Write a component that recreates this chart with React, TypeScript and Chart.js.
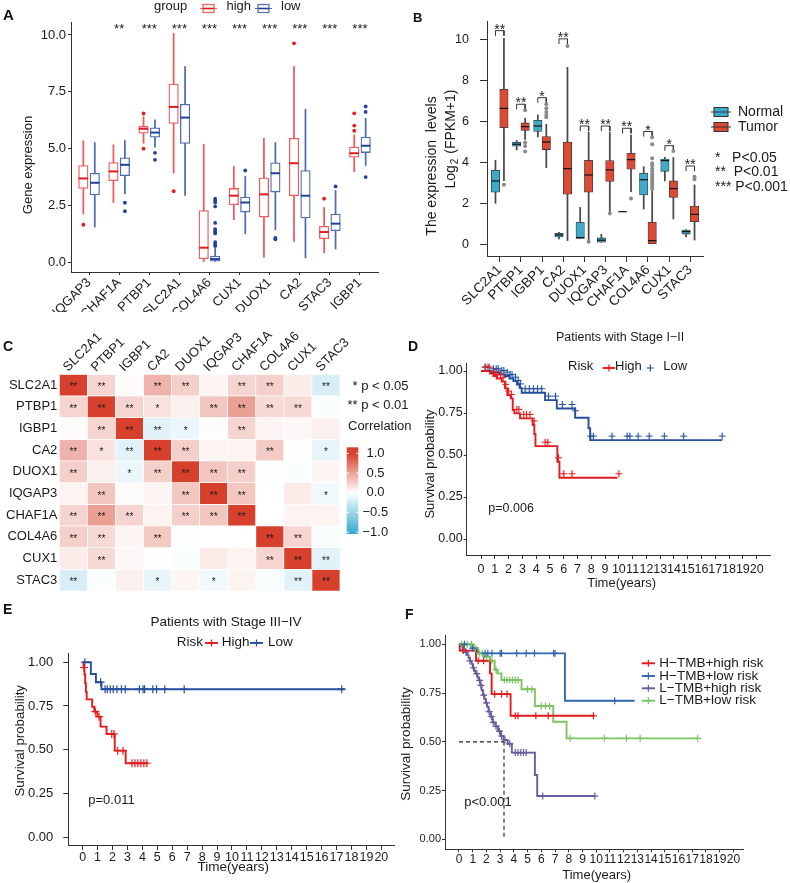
import React, { useEffect, useRef } from 'react';
import { Chart, registerables } from 'chart.js';
Chart.register(...registerables);

const FONT = '"Liberation Sans", Arial, Helvetica, sans-serif';
const INK = '#1a1a1a';
const AXIS = '#333333';

// ---------------- Panel A ----------------
const genesA = ['IQGAP3', 'CHAF1A', 'PTBP1', 'SLC2A1', 'COL4A6', 'CUX1', 'DUOX1', 'CA2', 'STAC3', 'IGBP1'];
const sigA = ['', '**', '***', '***', '***', '***', '***', '***', '***', '***'];
const yTicksA = [0, 2.5, 5, 7.5, 10];
const highMinA = [2.11, 2.62, 5.23, 3.91, 0.0, 1.86, 0.2, 0.91, 0.4, 3.97];
const highQ1A = [3.24, 3.58, 5.67, 6.1, 0.15, 2.52, 1.98, 2.92, 1.03, 4.62];
const highMedA = [3.68, 3.99, 5.87, 6.83, 0.63, 2.92, 2.98, 4.35, 1.32, 4.79];
const highQ3A = [4.25, 4.38, 5.98, 7.84, 2.27, 3.24, 3.71, 5.45, 1.57, 5.06];
const highMaxA = [5.34, 5.16, 6.4, 10.07, 5.19, 4.21, 5.45, 8.61, 2.4, 5.6];
const highOutA = [[0, 1.64], [2, 6.54], [2, 4.99], [3, 3.12], [7, 9.63], [8, 2.79], [9, 6.55], [9, 6.01], [9, 5.78]];
const lowMinA = [1.54, 3.0, 5.06, 2.93, 0.0, 1.25, 1.42, 0.18, 0.57, 4.25];
const lowQ1A = [2.95, 3.8, 5.5, 5.22, 0.04, 2.2, 3.08, 1.94, 1.38, 4.82];
const lowMedA = [3.49, 4.28, 5.7, 6.36, 0.13, 2.62, 3.91, 2.92, 1.69, 5.12];
const lowQ3A = [3.91, 4.59, 5.91, 6.95, 0.26, 2.86, 4.37, 4.03, 2.11, 5.5];
const lowMaxA = [5.26, 5.35, 6.26, 8.61, 0.6, 3.77, 5.26, 6.73, 3.15, 6.33];
const lowOutA = [[1, 2.61], [1, 2.24], [2, 4.81], [2, 4.5], [4, 2.79], [4, 2.7], [4, 2.62], [4, 2.45], [4, 1.72], [4, 1.45], [4, 1.38], [4, 1.32], [4, 1.26], [4, 0.88], [4, 0.78], [4, 0.7], [5, 4.03], [6, 1.06], [6, 1.0], [8, 3.33], [9, 6.85], [9, 6.61], [9, 3.74]];

// ---------------- Panel B ----------------
const genesB = ['SLC2A1', 'PTBP1', 'IGBP1', 'CA2', 'DUOX1', 'IQGAP3', 'CHAF1A', 'COL4A6', 'CUX1', 'STAC3'];
const sigB = ['**', '**', '*', '**', '**', '**', '**', '*', '*', '**'];
const bracketB = [10.42, 6.83, 7.15, 10.02, 5.77, 5.77, 5.66, 5.5, 4.81, 3.82];
const yTicksB = [0, 2, 4, 6, 8, 10];
const normMinB = [2.0, 4.6, 5.24, 0.26, 0.29, 0.1, 1.59, 1.72, 3.09, 0.36];
const normQ1B = [2.54, 4.78, 5.5, 0.36, 0.29, 0.1, 1.59, 2.41, 3.56, 0.5];
const normMedB = [3.09, 4.88, 5.77, 0.46, 0.33, 0.2, 1.59, 3.15, 4.08, 0.62];
const normQ3B = [3.61, 4.98, 6.05, 0.54, 1.07, 0.31, 1.59, 3.46, 4.16, 0.7];
const normMaxB = [4.1, 5.06, 6.31, 0.59, 1.8, 0.49, 1.59, 3.79, 4.24, 0.72];
const tumMinB = [3.1, 5.12, 3.74, 0.18, 0.13, 1.6, 2.57, 0.0, 1.24, 0.21];
const tumQ1B = [5.69, 5.56, 4.62, 2.44, 2.54, 3.07, 3.66, 0.03, 2.29, 1.1];
const tumMedB = [6.63, 5.74, 4.99, 3.69, 3.38, 3.63, 4.13, 0.18, 2.72, 1.46];
const tumQ3B = [7.56, 5.92, 5.25, 4.99, 4.1, 4.08, 4.44, 1.07, 3.09, 1.87];
const tumMaxB = [10.05, 6.15, 5.85, 8.63, 5.46, 5.46, 5.33, 2.6, 4.23, 2.9];
const tumOutB = [[0, 2.9], [1, 6.54], [1, 4.96], [1, 4.8], [1, 4.52], [2, 6.83], [2, 6.63], [2, 6.45], [2, 6.31], [2, 6.2], [3, 9.67], [4, 0.12], [5, 1.5], [6, 2.24], [7, 5.22], [7, 4.88], [7, 4.2], [7, 3.95], [7, 3.85], [7, 3.7], [7, 3.55], [7, 3.4], [7, 3.3], [7, 3.2], [7, 3.1], [7, 3.0], [7, 2.9], [7, 2.8], [7, 2.7], [8, 4.55], [9, 3.3], [9, 3.17]];

// ---------------- Panel C ----------------
const genesC = ['SLC2A1', 'PTBP1', 'IGBP1', 'CA2', 'DUOX1', 'IQGAP3', 'CHAF1A', 'COL4A6', 'CUX1', 'STAC3'];
const corrC = [
  [1, 0.22, 0.02, 0.4, 0.25, 0.06, 0.22, 0.25, 0.1, -0.2],
  [0.22, 1, 0.22, 0.15, 0.08, 0.3, 0.5, 0.2, 0.2, -0.03],
  [0.02, 0.22, 1, -0.15, -0.1, 0.02, 0.22, 0.05, 0.04, 0.08],
  [0.4, 0.15, -0.15, 1, 0.25, 0.05, 0.06, 0.28, 0.01, -0.12],
  [0.25, 0.08, -0.1, 0.25, 1, 0.3, 0.25, -0.02, -0.03, 0.05],
  [0.06, 0.3, 0.02, 0.05, 0.3, 1, 0.3, 0.0, 0.1, -0.07],
  [0.22, 0.5, 0.22, 0.06, 0.25, 0.3, 1, 0.0, 0.06, 0.06],
  [0.25, 0.2, 0.05, 0.28, -0.02, 0.0, 0.0, 1, 0.22, -0.04],
  [0.1, 0.2, 0.04, 0.01, -0.03, 0.1, 0.06, 0.22, 1, -0.15],
  [-0.2, -0.03, 0.08, -0.12, 0.05, -0.07, 0.06, -0.04, -0.15, 1],
];
const starsC = [
  ['**', '**', '', '**', '**', '', '**', '**', '', '**'],
  ['**', '**', '**', '*', '', '**', '**', '**', '**', ''],
  ['', '**', '**', '**', '*', '', '**', '', '', ''],
  ['**', '*', '**', '**', '**', '', '', '**', '', '*'],
  ['**', '', '*', '**', '**', '**', '**', '', '', ''],
  ['', '**', '', '', '**', '**', '**', '', '', '*'],
  ['**', '**', '**', '', '**', '**', '**', '', '', ''],
  ['**', '**', '', '**', '', '', '', '**', '**', ''],
  ['', '**', '', '', '', '', '', '**', '**', '**'],
  ['**', '', '', '*', '', '*', '', '', '**', '**'],
];
const corrTicks = [1, 0.5, 0, -0.5, -1];

// ---------------- Survival panels ----------------
const kmTicksX = Array.from({ length: 21 }, (_, i) => i);
const kmTicksY = [0, 0.25, 0.5, 0.75, 1];

const dHigh = [[0, 1], [0.65, 0.985], [0.9, 0.97], [1.14, 0.955], [1.5, 0.937], [1.74, 0.897], [1.91, 0.857], [2.15, 0.837], [2.3, 0.768], [2.42, 0.748], [2.83, 0.718], [3.75, 0.679], [3.87, 0.625], [3.95, 0.553], [5.54, 0.46], [5.69, 0.365], [9.9, 0.365]];
const dLow = [[0, 1], [0.77, 0.99], [1.38, 0.98], [1.74, 0.97], [2.06, 0.955], [2.35, 0.94], [2.6, 0.92], [2.8, 0.9], [2.95, 0.871], [4.65, 0.827], [5.5, 0.777], [6.83, 0.722], [7.8, 0.659], [7.92, 0.589], [17.5, 0.589]];
const dHighCens = [[0.3, 1], [0.6, 1], [1.0, 0.97], [1.2, 0.955], [1.4, 0.955], [1.6, 0.937], [1.8, 0.897], [2.0, 0.857], [2.2, 0.837], [2.6, 0.748], [2.75, 0.748], [3.1, 0.718], [3.3, 0.718], [3.55, 0.718], [3.85, 0.679], [4.65, 0.553], [4.85, 0.553], [5.62, 0.46], [6.0, 0.365], [6.6, 0.365], [10.0, 0.365]];
const dLowCens = [[0.3, 1], [0.5, 1], [0.9, 0.99], [1.1, 0.99], [1.25, 0.99], [1.5, 0.98], [1.65, 0.98], [1.9, 0.97], [2.1, 0.955], [2.25, 0.955], [2.5, 0.94], [2.7, 0.92], [2.85, 0.9], [3.2, 0.871], [3.5, 0.871], [3.8, 0.871], [4.1, 0.871], [4.4, 0.871], [4.9, 0.827], [5.4, 0.827], [5.9, 0.777], [6.6, 0.777], [6.85, 0.74], [7.95, 0.589], [8.15, 0.589], [9.5, 0.589], [10.6, 0.589], [10.8, 0.589], [11.4, 0.589], [12.2, 0.589], [13.3, 0.589], [14.7, 0.589], [17.5, 0.589]];

const eHigh = [[0, 1], [0.06, 0.97], [0.12, 0.93], [0.17, 0.88], [0.22, 0.83], [0.27, 0.788], [0.64, 0.746], [0.78, 0.718], [0.98, 0.689], [1.2, 0.632], [1.6, 0.59], [2.15, 0.495], [2.88, 0.423], [4.37, 0.423]];
const eLow = [[0, 1], [0.55, 0.933], [0.89, 0.886], [1.26, 0.846], [17.55, 0.846]];
const eHighCens = [[0.1, 0.97], [0.85, 0.718], [1.1, 0.689], [1.95, 0.59], [2.1, 0.59], [2.35, 0.495], [2.7, 0.495], [3.3, 0.423], [3.5, 0.423], [3.7, 0.423], [3.9, 0.423], [4.1, 0.423], [4.3, 0.423]];
const eLowCens = [[0.15, 1], [1.2, 0.886], [1.5, 0.846], [1.65, 0.846], [1.85, 0.846], [2.05, 0.846], [2.3, 0.846], [2.6, 0.846], [2.85, 0.846], [3.8, 0.846], [4.05, 0.846], [4.15, 0.846], [4.7, 0.846], [4.95, 0.846], [5.5, 0.846], [6.8, 0.846], [17.35, 0.846]];

const fHighTmbHighRisk = [[0, 1], [0.05, 0.968], [1.24, 0.916], [2.26, 0.851], [2.38, 0.745], [3.76, 0.634], [9.9, 0.634]];
const fHighTmbLowRisk = [[0, 1], [0.9, 0.98], [1.3, 0.954], [7.72, 0.711], [12.8, 0.711]];
const fLowTmbHighRisk = [[0, 1], [0.1, 0.99], [0.3, 0.975], [0.45, 0.96], [0.6, 0.945], [0.7, 0.93], [0.8, 0.915], [0.92, 0.9], [1.0, 0.88], [1.1, 0.865], [1.2, 0.85], [1.35, 0.83], [1.45, 0.815], [1.55, 0.79], [1.65, 0.765], [1.75, 0.74], [1.85, 0.72], [1.95, 0.7], [2.05, 0.68], [2.15, 0.655], [2.3, 0.63], [2.45, 0.6], [2.65, 0.58], [2.85, 0.555], [3.05, 0.53], [3.25, 0.51], [3.55, 0.49], [3.85, 0.445], [5.53, 0.33], [5.7, 0.222], [9.9, 0.222]];
const fLowTmbLowRisk = [[0, 1], [1.05, 0.98], [1.4, 0.954], [1.77, 0.937], [2.26, 0.916], [2.6, 0.87], [2.8, 0.851], [3.1, 0.817], [4.56, 0.77], [5.53, 0.684], [6.87, 0.603], [7.84, 0.518], [17.4, 0.518]];
const fHHCens = [[0.3, 0.968], [1.4, 0.916], [1.8, 0.916], [2.6, 0.745], [3.1, 0.745], [3.5, 0.745], [4.1, 0.634], [4.3, 0.634], [5.6, 0.634], [6.5, 0.634], [9.8, 0.634]];
const fHLCens = [[0.4, 1], [1.0, 0.98], [1.9, 0.954], [2.1, 0.954], [2.4, 0.954], [3.0, 0.954], [3.1, 0.954], [4.2, 0.954], [4.9, 0.954], [5.5, 0.954], [6.9, 0.954], [7.0, 0.954], [11.35, 0.711]];
const fLHCens = [[0.3, 0.975], [0.5, 0.96], [0.8, 0.915], [1.05, 0.88], [1.3, 0.85], [1.5, 0.815], [1.6, 0.79], [1.8, 0.74], [2.0, 0.7], [2.2, 0.655], [2.35, 0.63], [2.5, 0.6], [2.7, 0.58], [2.95, 0.555], [3.1, 0.53], [3.35, 0.51], [3.7, 0.49], [4.1, 0.445], [4.3, 0.445], [4.5, 0.445], [4.7, 0.445], [4.9, 0.445], [6.1, 0.222], [9.9, 0.222]];
const fLLCens = [[0.2, 1], [0.4, 1], [0.6, 1], [0.9, 1], [1.2, 0.98], [1.5, 0.954], [1.7, 0.954], [2.0, 0.937], [2.4, 0.916], [2.7, 0.87], [3.3, 0.817], [3.5, 0.817], [3.7, 0.817], [3.9, 0.817], [4.1, 0.817], [4.3, 0.817], [5.0, 0.77], [5.3, 0.77], [6.0, 0.684], [6.3, 0.684], [6.6, 0.684], [8.1, 0.518], [10.6, 0.518], [12.2, 0.518], [13.2, 0.518], [17.4, 0.518]];
const fMedianH = [[0, 0.5], [3.28, 0.5]];
const fMedianV = [[3.28, 0.5], [3.28, 0]];
const fLegend = ['H\u2212TMB+high risk', 'H\u2212TMB+low risk', 'L\u2212TMB+high risk', 'L\u2212TMB+low risk'];

// ---------------- colours ----------------
const RED_A = '#E41A1C', RED_A_EDGE = '#EE5B5D';
const BLUE_A = '#22429A', BLUE_A_EDGE = '#4F6CB2';
const NORM_FILL = '#3EAAC9', TUM_FILL = '#DD4A34';
const KM_RED = '#E41A1C', KM_BLUE = '#244E9E';
const F_COLORS = ['#E41A1C', '#2E67B1', '#6B5A9E', '#7DC462'];

// ---------------- helpers ----------------
type T = { s: string; x: number; y: number; size: number; align?: CanvasTextAlign; base?: CanvasTextBaseline; rot?: number; color?: string; weight?: string };
function drawT(ctx: CanvasRenderingContext2D, t: T) {
  ctx.save();
  ctx.font = `${t.weight ?? 'normal'} ${t.size}px ${FONT}`;
  ctx.fillStyle = t.color ?? INK;
  ctx.textAlign = t.align ?? 'left';
  ctx.textBaseline = t.base ?? 'middle';
  ctx.translate(t.x, t.y);
  if (t.rot) ctx.rotate(t.rot);
  ctx.fillText(t.s, 0, 0);
  ctx.restore();
}
const toXY = (pts: number[][]) => pts.map(([x, y]) => ({ x, y }));
const font = (size: number) => ({ family: FONT, size });

function corrColor(v: number) {
  const pos = [214, 64, 44];
  const neg = [58, 172, 208];
  const c = v >= 0 ? pos : neg;
  const a = Math.min(1, Math.abs(v));
  const m = (k: number) => Math.round(255 + (c[k] - 255) * a);
  return `rgb(${m(0)},${m(1)},${m(2)})`;
}

function boxDatasets(o: {
  min: number[]; q1: number[]; med: number[]; q3: number[]; max: number[]; out: number[][];
  off: number; boxW: number; fill: string; edge: string; edgeW: number; whisk: string; medColor: string; medW: number; outColor: string; outR: number;
}) {
  const xs = o.med.map((_, i) => i + 1 + o.off);
  return [
    { type: 'bar', data: xs.map((x, i) => ({ x, y: [o.min[i], o.max[i]] })), backgroundColor: o.whisk, borderWidth: 0, barThickness: 1.1, grouped: false, order: 3 },
    { type: 'bar', data: xs.map((x, i) => ({ x, y: [o.q1[i], o.q3[i]] })), backgroundColor: o.fill, borderColor: o.edge, borderWidth: o.edgeW, borderSkipped: false, barThickness: o.boxW, grouped: false, order: 2 },
    { type: 'scatter', data: xs.map((x, i) => ({ x, y: o.med[i] })), pointStyle: 'line', pointRadius: o.boxW / 2, pointBorderColor: o.medColor, pointBorderWidth: o.medW, borderColor: o.medColor, order: 1 },
    { type: 'scatter', data: o.out.map(([g, v]) => ({ x: g + 1 + o.off, y: v })), pointStyle: 'circle', pointRadius: o.outR, pointBackgroundColor: o.outColor, pointBorderWidth: 0, order: 0 },
  ];
}

function axisCommon(tl: number) {
  return {
    grid: { display: true, drawOnChartArea: false, drawTicks: true, tickLength: tl, color: AXIS, offset: false },
    border: { display: true, color: AXIS, width: 1 },
  };
}

function baseOptions(pad: any) {
  return {
    responsive: false, animation: false, devicePixelRatio: 1, events: [],
    layout: { padding: pad },
    plugins: { legend: { display: false }, tooltip: { enabled: false }, title: { display: false } },
  };
}

// ---------------- Panel A config ----------------
function configA(): any {
  const datasets = [
    ...boxDatasets({ min: highMinA, q1: highQ1A, med: highMedA, q3: highQ3A, max: highMaxA, out: highOutA, off: -0.19, boxW: 9.5, fill: '#ffffff', edge: RED_A_EDGE, edgeW: 1.3, whisk: RED_A_EDGE, medColor: RED_A, medW: 2, outColor: RED_A, outR: 1.9 }),
    ...boxDatasets({ min: lowMinA, q1: lowQ1A, med: lowMedA, q3: lowQ3A, max: lowMaxA, out: lowOutA, off: 0.19, boxW: 9.5, fill: '#ffffff', edge: BLUE_A_EDGE, edgeW: 1.3, whisk: BLUE_A_EDGE, medColor: BLUE_A, medW: 2, outColor: BLUE_A, outR: 1.9 }),
  ];
  return {
    type: 'bar',
    data: { datasets },
    options: {
      ...baseOptions({ left: 0, right: 22, top: 22, bottom: 0 }),
      scales: {
        x: {
          type: 'linear', min: 0.4, max: 10.6, offset: false, ...axisCommon(3),
          afterBuildTicks: (s: any) => { s.ticks = genesA.map((_, i) => ({ value: i + 1 })); },
          afterFit: (s: any) => { s.height = 40; },
          ticks: { autoSkip: false, minRotation: 45, maxRotation: 45, padding: 0, color: INK, font: font(13), callback: (v: number) => genesA[Math.round(v) - 1] ?? '' },
        },
        y: {
          type: 'linear', min: -0.44, max: 10.57, ...axisCommon(3),
          afterBuildTicks: (s: any) => { s.ticks = yTicksA.map((v) => ({ value: v })); },
          afterFit: (s: any) => { s.width = 71; },
          ticks: { padding: 2, color: INK, font: font(13), callback: (v: number) => v.toFixed(1) },
        },
      },
    },
    plugins: [{
      id: 'panelA',
      afterDraw(chart: any) {
        const ctx = chart.ctx as CanvasRenderingContext2D;
        const xs = chart.scales.x, ys = chart.scales.y;
        sigA.forEach((s, i) => { if (s) drawT(ctx, { s, x: xs.getPixelForValue(i + 1), y: ys.getPixelForValue(10.37) + 3, size: 13, align: 'center' }); });
        drawT(ctx, { s: 'Gene expression', x: 28, y: 165, size: 13, align: 'center', rot: -Math.PI / 2 });
        drawT(ctx, { s: 'group', x: 154, y: 6, size: 13 });
        const key = (x: number, edge: string, mid: string) => {
          ctx.save();
          ctx.strokeStyle = edge; ctx.lineWidth = 1.2;
          ctx.beginPath(); ctx.moveTo(x, 8.5); ctx.lineTo(x + 3, 8.5); ctx.moveTo(x + 14, 8.5); ctx.lineTo(x + 17, 8.5); ctx.stroke();
          ctx.strokeRect(x + 3, 4.5, 11, 8);
          ctx.strokeStyle = mid; ctx.lineWidth = 1.6;
          ctx.beginPath(); ctx.moveTo(x + 3, 8.5); ctx.lineTo(x + 14, 8.5); ctx.stroke();
          ctx.restore();
        };
        key(200, RED_A_EDGE, RED_A);
        drawT(ctx, { s: 'high', x: 226.5, y: 6, size: 13 });
        key(255, BLUE_A_EDGE, BLUE_A);
        drawT(ctx, { s: 'low', x: 281, y: 6, size: 13 });
      },
    }],
  };
}

// ---------------- Panel B config ----------------
function configB(): any {
  const common = { boxW: 8.4, edge: '#3a3a3a', edgeW: 0.8, whisk: '#4a4a4a', medColor: '#111111', medW: 1.2, outColor: '#8a8a8a', outR: 2 };
  const bracketPts: any[] = [];
  bracketB.forEach((top, i) => {
    const c = i + 1;
    bracketPts.push({ x: c - 0.2, y: top - 0.25 }, { x: c - 0.2, y: top }, { x: c + 0.2, y: top }, { x: c + 0.2, y: top - 0.25 }, { x: c + 0.5, y: null });
  });
  const datasets = [
    ...boxDatasets({ ...common, min: normMinB, q1: normQ1B, med: normMedB, q3: normQ3B, max: normMaxB, out: [], off: -0.2, fill: NORM_FILL }),
    ...boxDatasets({ ...common, min: tumMinB, q1: tumQ1B, med: tumMedB, q3: tumQ3B, max: tumMaxB, out: tumOutB, off: 0.2, fill: TUM_FILL }),
    { type: 'line', data: bracketPts, borderColor: '#333333', borderWidth: 1, pointRadius: 0, spanGaps: false, order: 0 },
  ];
  return {
    type: 'bar',
    data: { datasets },
    options: {
      ...baseOptions({ left: 0, right: 87, top: 21, bottom: 0 }),
      scales: {
        x: {
          type: 'linear', min: 0.4, max: 10.6, offset: false, ...axisCommon(6),
          afterBuildTicks: (s: any) => { s.ticks = genesB.map((_, i) => ({ value: i + 1 })); },
          afterFit: (s: any) => { s.height = 56; },
          ticks: { autoSkip: false, minRotation: 45, maxRotation: 45, padding: 0, color: INK, font: font(13.5), callback: (v: number) => genesB[Math.round(v) - 1] ?? '' },
        },
        y: {
          type: 'linear', min: -0.57, max: 10.89, ...axisCommon(7),
          afterBuildTicks: (s: any) => { s.ticks = yTicksB.map((v) => ({ value: v })); },
          afterFit: (s: any) => { s.width = 87; },
          ticks: { padding: 11, color: INK, font: font(12.5), callback: (v: number) => String(v) },
        },
      },
    },
    plugins: [{
      id: 'panelB',
      afterDraw(chart: any) {
        const ctx = chart.ctx as CanvasRenderingContext2D;
        const xs = chart.scales.x, ys = chart.scales.y;
        sigB.forEach((s, i) => drawT(ctx, { s, x: xs.getPixelForValue(i + 1), y: ys.getPixelForValue(bracketB[i]) - 4 + 3.2, size: 14, align: 'center' }));
        drawT(ctx, { s: 'The expression  levels', x: 32, y: 166, size: 14, align: 'center', rot: -Math.PI / 2 });
        ctx.save();
        ctx.translate(51, 139);
        ctx.rotate(-Math.PI / 2);
        ctx.fillStyle = INK;
        ctx.textBaseline = 'middle';
        const p1 = 'Log', p3 = ' (FPKM+1)';
        ctx.font = `14px ${FONT}`; const w1 = ctx.measureText(p1).width;
        ctx.font = `10px ${FONT}`; const w2 = ctx.measureText('2').width;
        ctx.font = `14px ${FONT}`; const w3 = ctx.measureText(p3).width;
        let x0 = -(w1 + w2 + 2 + w3) / 2;
        ctx.fillText(p1, x0, 0); x0 += w1 + 1;
        ctx.font = `10px ${FONT}`; ctx.fillText('2', x0, 4); x0 += w2 + 1;
        ctx.font = `14px ${FONT}`; ctx.fillText(p3, x0, 0);
        ctx.restore();
        const key = (y: number, fill: string) => {
          ctx.save();
          ctx.strokeStyle = '#333'; ctx.lineWidth = 1;
          ctx.fillStyle = fill;
          ctx.fillRect(314, y - 4.5, 14, 9);
          ctx.strokeRect(314, y - 4.5, 14, 9);
          ctx.beginPath(); ctx.moveTo(311, y); ctx.lineTo(331, y); ctx.stroke();
          ctx.restore();
        };
        key(112, NORM_FILL);
        drawT(ctx, { s: 'Normal', x: 338, y: 112, size: 14 });
        key(127, TUM_FILL);
        drawT(ctx, { s: 'Tumor', x: 338, y: 127, size: 14 });
        drawT(ctx, { s: '*   P<0.05', x: 315, y: 158, size: 14 });
        drawT(ctx, { s: '**  P<0.01', x: 315, y: 172, size: 14 });
        drawT(ctx, { s: '*** P<0.001', x: 315, y: 187, size: 14 });
      },
    }],
  };
}

// ---------------- Panel C config ----------------
function configC(): any {
  const datasets = corrC.map((row, r) => ({
    type: 'bar',
    data: row.map(() => [r + 0.5, r + 1.5]),
    backgroundColor: row.map((v) => corrColor(v)),
    borderColor: '#ffffff', borderWidth: 0.7, borderSkipped: false,
    barPercentage: 1, categoryPercentage: 1, grouped: false,
  }));
  return {
    type: 'bar',
    data: { labels: genesC, datasets },
    options: {
      ...baseOptions({ left: 0, right: 80, top: 0, bottom: 19 }),
      scales: {
        x: {
          type: 'category', position: 'top', offset: true,
          grid: { display: false, drawTicks: false }, border: { display: false },
          afterFit: (s: any) => { s.height = 54.3; },
          ticks: { display: false },
        },
        y: {
          type: 'linear', reverse: true, min: 0.5, max: 10.5,
          grid: { display: false, drawTicks: false }, border: { display: false },
          afterBuildTicks: (s: any) => { s.ticks = genesC.map((_, i) => ({ value: i + 1 })); },
          afterFit: (s: any) => { s.width = 59.3; },
          ticks: { padding: 2, color: INK, font: font(13), callback: (v: number) => genesC[Math.round(v) - 1] ?? '' },
        },
      },
    },
    plugins: [{
      id: 'panelC',
      afterDraw(chart: any) {
        const ctx = chart.ctx as CanvasRenderingContext2D;
        const xs = chart.scales.x, ys = chart.scales.y;
        const top = chart.chartArea.top;
        genesC.forEach((g, c) => drawT(ctx, { s: g, x: xs.getPixelForValue(c) - 5.3, y: top - 2.3, size: 13, base: 'alphabetic', rot: -Math.PI / 4 }));
        starsC.forEach((row, r) => row.forEach((s, c) => {
          if (s) drawT(ctx, { s, x: xs.getPixelForValue(c), y: ys.getPixelForValue(r + 1) + 2.5, size: 10, align: 'center' });
        }));
        drawT(ctx, { s: '* p < 0.05', x: 408.5, y: 66, size: 13, align: 'right' });
        drawT(ctx, { s: '** p < 0.01', x: 408.5, y: 85.7, size: 13, align: 'right' });
        drawT(ctx, { s: 'Correlation', x: 348, y: 106.7, size: 13 });
        const barTop = 127.3, barBot = 214, barMid = 172.7, step = 39.35;
        const g = ctx.createLinearGradient(0, barMid - step * 1.15, 0, barMid + step * 1.05);
        const vTop = 1.15, vBot = -1.05;
        const stops = [1.15, 1, 0.5, 0, -0.5, -1, -1.05];
        stops.forEach((v) => g.addColorStop((vTop - v) / (vTop - vBot), corrColor(Math.max(-1, Math.min(1, v)))));
        ctx.fillStyle = g;
        ctx.fillRect(346.7, barTop, 11.6, barBot - barTop);
        corrTicks.forEach((v) => {
          const y = barMid - v * step;
          ctx.save(); ctx.strokeStyle = '#ffffff'; ctx.lineWidth = 1;
          ctx.beginPath(); ctx.moveTo(346.7, y); ctx.lineTo(349, y); ctx.moveTo(356, y); ctx.lineTo(358.3, y); ctx.stroke(); ctx.restore();
          const s = v === 0 ? '0.0' : (v < 0 ? '\u2212' + Math.abs(v).toFixed(1) : v.toFixed(1));
          drawT(ctx, { s, x: v < 0 ? 362.5 : 366.5, y, size: 13 });
        });
      },
    }],
  };
}

// ---------------- Survival config ----------------
function crossImage(color: string, r: number, dy: number, lw: number) {
  const c = document.createElement('canvas');
  const size = Math.ceil(2 * r + 2);
  c.width = size; c.height = size + 2 * dy;
  const g = c.getContext('2d')!;
  g.strokeStyle = color; g.lineWidth = lw;
  const cx = size / 2, cy = c.height / 2 - dy;
  g.beginPath(); g.moveTo(cx - r, cy); g.lineTo(cx + r, cy); g.moveTo(cx, cy - r); g.lineTo(cx, cy + r); g.stroke();
  return c;
}

function kmConfig(o: {
  curves: { pts: number[][]; color: string }[];
  censors: { pts: number[][]; color: string; style?: any }[];
  dashed?: number[][][];
  xMin: number; xMax: number; yMin: number; yMax: number;
  pad: any; yW: number; xH: number; yFont: number; xFont: number; yTL: number; yPad: number; xTL: number; xPad: number;
  crossR: number; draw: (ctx: CanvasRenderingContext2D, chart: any) => void;
}): any {
  const datasets: any[] = [];
  o.censors.forEach((c) => datasets.push({ type: 'scatter', data: toXY(c.pts), pointStyle: c.style ?? 'cross', pointRadius: o.crossR, pointBorderColor: c.color, pointBorderWidth: 1.2, showLine: false, order: 0 }));
  o.curves.forEach((c) => datasets.push({ type: 'line', data: toXY(c.pts), stepped: 'before', borderColor: c.color, borderWidth: 1.9, pointRadius: 0, fill: false, order: 1 }));
  (o.dashed ?? []).forEach((d) => datasets.push({ type: 'line', data: toXY(d), borderColor: '#222222', borderWidth: 1.1, borderDash: [4, 3], pointRadius: 0, fill: false, order: 2 }));
  return {
    type: 'line',
    data: { datasets },
    options: {
      ...baseOptions(o.pad),
      scales: {
        x: {
          type: 'linear', min: o.xMin, max: o.xMax, offset: false, ...axisCommon(o.xTL),
          afterBuildTicks: (s: any) => { s.ticks = kmTicksX.map((v) => ({ value: v })); },
          afterFit: (s: any) => { s.height = o.xH; },
          ticks: { autoSkip: false, maxRotation: 0, minRotation: 0, padding: o.xPad, color: INK, font: font(o.xFont), callback: (v: number) => String(v) },
        },
        y: {
          type: 'linear', min: o.yMin, max: o.yMax, ...axisCommon(o.yTL),
          afterBuildTicks: (s: any) => { s.ticks = kmTicksY.map((v) => ({ value: v })); },
          afterFit: (s: any) => { s.width = o.yW; },
          ticks: { padding: o.yPad, color: INK, font: font(o.yFont), callback: (v: number) => v.toFixed(2) },
        },
      },
    },
    plugins: [{ id: 'kmText', afterDraw(chart: any) { o.draw(chart.ctx, chart); } }],
  };
}

function legendKey(ctx: CanvasRenderingContext2D, x: number, y: number, w: number, color: string, line: boolean, r = 3.5) {
  ctx.save();
  ctx.strokeStyle = color; ctx.lineWidth = 1.9;
  if (line) { ctx.beginPath(); ctx.moveTo(x, y); ctx.lineTo(x + w, y); ctx.stroke(); }
  ctx.lineWidth = 1.2;
  const cx = x + w / 2;
  ctx.beginPath(); ctx.moveTo(cx - r, y); ctx.lineTo(cx + r, y); ctx.moveTo(cx, y - r); ctx.lineTo(cx, y + r); ctx.stroke();
  ctx.restore();
}

function configD(): any {
  return kmConfig({
    curves: [{ pts: dHigh, color: KM_RED }, { pts: dLow, color: KM_BLUE }],
    censors: [
      { pts: dHighCens, color: KM_RED, style: crossImage(KM_RED, 3.5, 4, 1.2) },
      { pts: dLowCens, color: KM_BLUE, style: crossImage(KM_BLUE, 3.5, 4, 1.2) },
    ],
    xMin: -1.04, xMax: 20.97, yMin: -0.095, yMax: 1.046,
    pad: { left: 0, right: 20, top: 43.3, bottom: 0 }, yW: 66.7, xH: 45,
    yFont: 12.5, xFont: 12.5, yTL: 3, yPad: 1, xTL: 4, xPad: 3, crossR: 3.5,
    draw: (ctx) => {
      drawT(ctx, { s: 'Patients with Stage I\u2212II', x: 220, y: 17.7, size: 12.5, align: 'center' });
      drawT(ctx, { s: 'Risk', x: 168, y: 46.7, size: 13 });
      legendKey(ctx, 202.7, 48, 12.5, KM_RED, true);
      drawT(ctx, { s: 'High', x: 215, y: 46.7, size: 13 });
      legendKey(ctx, 244, 48, 12.5, KM_BLUE, false);
      drawT(ctx, { s: 'Low', x: 263.3, y: 46.7, size: 13 });
      drawT(ctx, { s: 'p=0.006', x: 88.3, y: 188.3, size: 12.5 });
      drawT(ctx, { s: 'Survival probability', x: 30, y: 144, size: 13, align: 'center', rot: -Math.PI / 2 });
      drawT(ctx, { s: 'Time(years)', x: 221.7, y: 263.3, size: 13, align: 'center' });
    },
  });
}

function configE(): any {
  return kmConfig({
    curves: [{ pts: eHigh, color: KM_RED }, { pts: eLow, color: KM_BLUE }],
    censors: [{ pts: eHighCens, color: KM_RED }, { pts: eLowCens, color: KM_BLUE }],
    xMin: -0.96, xMax: 20.9, yMin: -0.044, yMax: 1.051,
    pad: { left: 0, right: 3.3, top: 43.3, bottom: 0 }, yW: 68.3, xH: 38,
    yFont: 13, xFont: 12.5, yTL: 5, yPad: 10, xTL: 5, xPad: 0, crossR: 4,
    draw: (ctx) => {
      drawT(ctx, { s: 'Patients with Stage III\u2212IV', x: 226, y: 12.7, size: 13.5, align: 'center' });
      drawT(ctx, { s: 'Risk', x: 176.7, y: 32.7, size: 13.5 });
      legendKey(ctx, 205, 33, 13, KM_RED, true);
      drawT(ctx, { s: 'High', x: 221.7, y: 32.7, size: 13.5 });
      legendKey(ctx, 250, 33, 13, KM_BLUE, true);
      drawT(ctx, { s: 'Low', x: 268, y: 32.7, size: 13.5 });
      drawT(ctx, { s: 'p=0.011', x: 88.3, y: 190, size: 13 });
      drawT(ctx, { s: 'Survival probability', x: 20, y: 130.8, size: 13.3, align: 'center', rot: -Math.PI / 2 });
      drawT(ctx, { s: 'Time(years)', x: 233.3, y: 257.5, size: 13.5, align: 'center' });
    },
  });
}

function configF(): any {
  return kmConfig({
    curves: [
      { pts: fHighTmbHighRisk, color: F_COLORS[0] },
      { pts: fHighTmbLowRisk, color: F_COLORS[1] },
      { pts: fLowTmbHighRisk, color: F_COLORS[2] },
      { pts: fLowTmbLowRisk, color: F_COLORS[3] },
    ],
    censors: [
      { pts: fHHCens, color: F_COLORS[0] },
      { pts: fHLCens, color: F_COLORS[1] },
      { pts: fLHCens, color: F_COLORS[2] },
      { pts: fLLCens, color: F_COLORS[3] },
    ],
    dashed: [fMedianH, fMedianV],
    xMin: -1.02, xMax: 20.72, yMin: -0.051, yMax: 1.048,
    pad: { left: 0, right: 46.7, top: 25, bottom: 0 }, yW: 45, xH: 33.7,
    yFont: 11, xFont: 12, yTL: 3, yPad: 1, xTL: 3, xPad: 0, crossR: 3.5,
    draw: (ctx) => {
      const ys = [53.3, 66, 78.3, 90.7];
      fLegend.forEach((s, i) => {
        legendKey(ctx, 241.7, ys[i], 13.3, F_COLORS[i], true);
        drawT(ctx, { s, x: 259.3, y: ys[i], size: 13.5 });
      });
      drawT(ctx, { s: 'p<0.001', x: 64.3, y: 192.3, size: 13 });
      drawT(ctx, { s: 'Survival probability', x: 6.7, y: 134, size: 13.5, align: 'center', rot: -Math.PI / 2 });
      drawT(ctx, { s: 'Time(years)', x: 196.7, y: 265, size: 13, align: 'center' });
    },
  });
}

// ---------------- components ----------------
function ChartBox({ left, top, width, height, make }: { left: number; top: number; width: number; height: number; make: () => any }) {
  const ref = useRef<HTMLCanvasElement>(null);
  useEffect(() => {
    const chart = new Chart(ref.current as HTMLCanvasElement, make());
    return () => chart.destroy();
  }, []);
  return (
    <div style={{ position: 'absolute', left, top, width, height }}>
      <canvas ref={ref} width={width} height={height} style={{ display: 'block', width, height }} />
    </div>
  );
}

function Letter({ s, left, top, size = 14 }: { s: string; left: number; top: number; size?: number }) {
  return (
    <div style={{ position: 'absolute', left, top, fontFamily: FONT, fontWeight: 'bold', fontSize: size, lineHeight: `${size}px`, color: '#111' }}>{s}</div>
  );
}

export default function App() {
  return (
    <div style={{ position: 'absolute', left: 0, top: 0, width: 790, height: 883, overflow: 'hidden', background: '#ffffff' }}>
      <ChartBox left={0} top={0} width={400} height={312} make={configA} />
      <ChartBox left={400} top={0} width={390} height={312} make={configB} />
      <ChartBox left={0} top={320} width={420} height={290} make={configC} />
      <ChartBox left={400} top={320} width={390} height={280} make={configD} />
      <ChartBox left={0} top={610} width={400} height={273} make={configE} />
      <ChartBox left={400} top={610} width={390} height={273} make={configF} />
      <Letter s="A" left={3} top={7} size={15} />
      <Letter s="B" left={413} top={11} size={13} />
      <Letter s="C" left={3} top={339} size={14} />
      <Letter s="D" left={408} top={339} size={14} />
      <Letter s="E" left={3} top={602} size={14} />
      <Letter s="F" left={405} top={607} size={14} />
    </div>
  );
}
